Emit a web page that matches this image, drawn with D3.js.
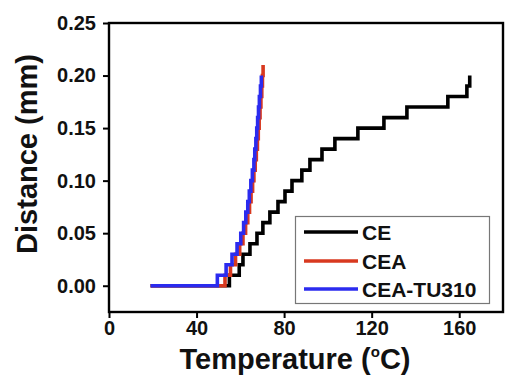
<!DOCTYPE html>
<html>
<head>
<meta charset="utf-8">
<script src="https://cdn.jsdelivr.net/npm/d3@7"></script>
<style>
  body { margin: 0; background: #fff; }
  text { font-family: Arial, "Liberation Sans", sans-serif; font-weight: bold; }
</style>
</head>
<body>
<div id="root"></div>
<script>
// distance levels (mm), each reached at the temperature below
const ceDist = [0, 0.01, 0.02, 0.03, 0.04, 0.05, 0.06, 0.07, 0.08, 0.09, 0.10, 0.11, 0.12, 0.13, 0.14, 0.15, 0.16, 0.17, 0.18, 0.19, 0.20]
const ceTemp = [19, 55, 59.5, 61.2, 64.4, 67.6, 70.3, 73.5, 77.2, 80.4, 83.6, 88.1, 91.8, 97.3, 103.2, 113.7, 125.6, 136.1, 154.8, 163.5, 164.8]

const ceaDist = [0, 0.01, 0.02, 0.03, 0.04, 0.05, 0.06, 0.07, 0.08, 0.09, 0.10, 0.11, 0.12, 0.13, 0.14, 0.15, 0.16, 0.17, 0.18, 0.19, 0.20, 0.21]
const ceaTemp = [19, 53, 55.5, 57.8, 59.7, 61.2, 62.4, 63.4, 64.2, 64.9, 65.6, 66.2, 66.8, 67.3, 67.8, 68.2, 68.6, 69, 69.4, 69.8, 70.1, 70.4]

const tuDist = [0, 0.01, 0.02, 0.03, 0.04, 0.05, 0.06, 0.07, 0.08, 0.09, 0.10, 0.11, 0.12, 0.13, 0.14, 0.15, 0.16, 0.17, 0.18, 0.19, 0.20]
const tuTemp = [19, 49.5, 53.5, 56.2, 58.5, 60.2, 61.5, 62.5, 63.4, 64.1, 64.8, 65.5, 66.2, 66.6, 67.1, 67.5, 67.9, 68.3, 68.7, 69.2, 69.6]

const seriesNames = ['CE', 'CEA', 'CEA-TU310']
const seriesColors = ['#000000', '#d8391f', '#2b2bef']

const xTicks = [0, 40, 80, 120, 160]
const yTicks = [0, 0.05, 0.10, 0.15, 0.20, 0.25]

const width = 515
const height = 384

const svg = d3.select('#root').append('svg')
  .attr('width', width)
  .attr('height', height)

const x = d3.scaleLinear().domain([0, 180]).range([109, 503])
const y = d3.scaleLinear().domain([-0.025, 0.25]).range([312, 23])

const series = [
  ceTemp.map((t, i) => [t, ceDist[i]]),
  ceaTemp.map((t, i) => [t, ceaDist[i]]),
  tuTemp.map((t, i) => [t, tuDist[i]])
]

const line = d3.line()
  .x(d => x(d[0]))
  .y(d => y(d[1]))
  .curve(d3.curveStepAfter)

svg.append('g')
  .selectAll('path')
  .data(series)
  .enter()
  .append('path')
  .attr('d', line)
  .attr('fill', 'none')
  .attr('stroke', (d, i) => seriesColors[i])
  .attr('stroke-width', 3.6)
  .attr('stroke-linejoin', 'miter')

// axes
const xAxis = svg.append('g')
  .attr('transform', 'translate(0,312)')
  .call(d3.axisBottom(x).tickValues(xTicks).tickSize(6).tickSizeOuter(0).tickPadding(3))
const yAxis = svg.append('g')
  .attr('transform', 'translate(109,0)')
  .call(d3.axisLeft(y).tickValues(yTicks).tickFormat(d3.format('.2f')).tickSize(6).tickSizeOuter(0).tickPadding(7))

for (const g of [xAxis, yAxis]) {
  g.select('.domain').remove()
  g.selectAll('line').attr('stroke', '#000').attr('stroke-width', 2)
  g.selectAll('text')
    .attr('fill', '#111')
    .style('font-size', '20px')
    .style('font-family', 'Arial, "Liberation Sans", sans-serif')
    .style('font-weight', 'bold')
}

// frame
svg.append('rect')
  .attr('x', x(0))
  .attr('y', y(0.25))
  .attr('width', x(180) - x(0))
  .attr('height', y(-0.025) - y(0.25))
  .attr('fill', 'none')
  .attr('stroke', '#000')
  .attr('stroke-width', 2.4)

// axis titles
svg.append('text')
  .attr('transform', 'translate(37,154) rotate(-90)')
  .attr('text-anchor', 'middle')
  .style('font-size', '29px')
  .attr('fill', '#111')
  .text('Distance (mm)')

const xt = svg.append('text')
  .attr('x', 295)
  .attr('y', 369)
  .attr('text-anchor', 'middle')
  .style('font-size', '29px')
  .attr('fill', '#111')
xt.append('tspan').text('Temperature (')
xt.append('tspan').attr('dy', -12).style('font-size', '15px').text('o')
xt.append('tspan').attr('dy', 12).text('C)')

// legend
const legend = svg.append('g')
legend.append('rect')
  .attr('x', 295.5)
  .attr('y', 216.5)
  .attr('width', 194)
  .attr('height', 87)
  .attr('fill', '#fff')
  .attr('stroke', '#777')
  .attr('stroke-width', 1.2)

const rowY = [232, 261, 289]
const items = legend.selectAll('g.item')
  .data(seriesNames)
  .enter()
  .append('g')
  .attr('transform', (d, i) => `translate(0,${rowY[i]})`)
items.append('line')
  .attr('x1', 304)
  .attr('x2', 358)
  .attr('stroke', (d, i) => seriesColors[i])
  .attr('stroke-width', 3.6)
items.append('text')
  .attr('x', 362)
  .attr('dy', '0.36em')
  .style('font-size', '21px')
  .attr('fill', '#111')
  .text(d => d)
</script>
</body>
</html>
